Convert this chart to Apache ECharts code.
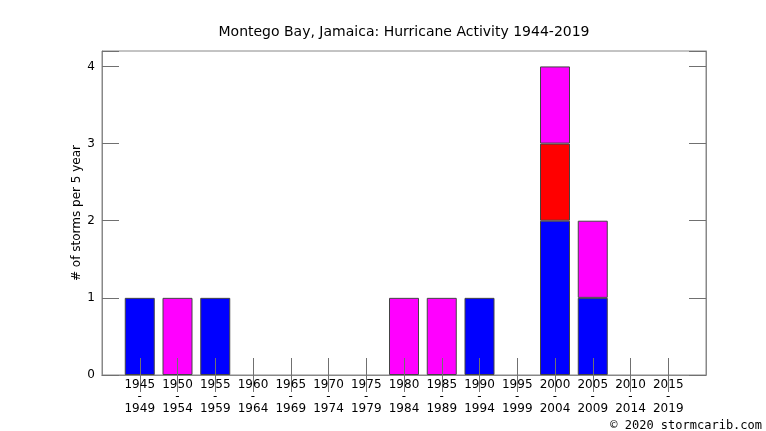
<!DOCTYPE html>
<html>
<head>
<meta charset="utf-8">
<script src="https://cdn.jsdelivr.net/npm/echarts@6/dist/echarts.min.js"></script>
<style>html,body{margin:0;padding:0;background:#fff;}#c{width:766px;height:431px;}</style>
</head>
<body>
<div id="c"></div>
<script>
var categories = ['1945\n-\n1949','1950\n-\n1954','1955\n-\n1959','1960\n-\n1964','1965\n-\n1969','1970\n-\n1974','1975\n-\n1979','1980\n-\n1984','1985\n-\n1989','1990\n-\n1994','1995\n-\n1999','2000\n-\n2004','2005\n-\n2009','2010\n-\n2014','2015\n-\n2019'];
var blueValues    = [1,0,1,0,0,0,0,0,0,1,0,2,1,0,0];
var redValues     = [0,0,0,0,0,0,0,0,0,0,0,1,0,0,0];
var magentaValues = [0,1,0,0,0,0,0,1,1,0,0,1,1,0,0];
var yTicks = [0,1,2,3,4];

function pad(arr){ return [null].concat(arr.map(function(v){return v===0?null:v;}), [null]); }
var cats = [''].concat(categories, ['']);
var lastIdx = cats.length - 1;
function innerTick(i){ return i > 0 && i < lastIdx; }

var chart = echarts.init(document.getElementById('c'), null, {renderer:'canvas'});
var font = 'DejaVu Sans';
var axisGray = '#888';
var tickGray = '#707070';
function barSeries(name, data, color){
  return {
    name: name, type: 'bar', stack: 'total', data: pad(data), barWidth: 30,
    itemStyle: {color: color, borderColor: '#444', borderWidth: 1},
    emphasis: {disabled: true}
  };
}
chart.setOption({
  animation: false,
  title: {
    text: 'Montego Bay, Jamaica: Hurricane Activity 1944-2019',
    left: 399, top: 20, textAlign: 'center',
    textStyle: {fontFamily: font, fontSize: 14, fontWeight: 'normal', color: '#000'}
  },
  grid: {left: 102, right: 60, top: 51, bottom: 56, show: true, borderColor: axisGray, borderWidth: 1, backgroundColor: 'transparent'},
  xAxis: [{
    type: 'category', data: cats, boundaryGap: false, position: 'bottom', z: 5,
    axisLine: {show: true, lineStyle: {color: axisGray}},
    axisTick: {show: true, inside: true, length: 17, interval: innerTick, lineStyle: {color: tickGray}},
    axisLabel: {interval: 0, fontFamily: font, fontSize: 12, color: '#000', lineHeight: 11.8, margin: 4},
    splitLine: {show: false}
  },{
    type: 'category', data: cats, boundaryGap: false, position: 'top', z: 5,
    axisLine: {show: true, lineStyle: {color: axisGray}},
    axisTick: {show: true, inside: true, length: 17, interval: innerTick, lineStyle: {color: tickGray}},
    axisLabel: {show: false},
    splitLine: {show: false}
  }],
  yAxis: [{
    type: 'value', min: 0, max: 4.2, interval: 1, z: 5,
    name: '# of storms per 5 year', nameLocation: 'middle', nameGap: 19, nameRotate: 90,
    nameMoveOverlap: false,
    nameTextStyle: {fontFamily: font, fontSize: 12, color: '#000'},
    axisLine: {show: true, lineStyle: {color: axisGray}},
    axisTick: {show: true, inside: true, length: 17, lineStyle: {color: tickGray}},
    axisLabel: {fontFamily: font, fontSize: 12, color: '#000', margin: 7,
      formatter: function(v){ return yTicks.indexOf(v) >= 0 ? String(v) : ''; }},
    splitLine: {show: false}
  },{
    type: 'value', min: 0, max: 4.2, interval: 1, position: 'right', z: 5,
    axisLine: {show: true, lineStyle: {color: axisGray}},
    axisTick: {show: true, inside: true, length: 17, lineStyle: {color: tickGray}},
    axisLabel: {show: false},
    splitLine: {show: false}
  }],
  series: [
    barSeries('blue', blueValues, '#0000ff'),
    barSeries('red', redValues, '#ff0000'),
    barSeries('magenta', magentaValues, '#ff00ff')
  ],
  graphic: [{
    type: 'text', right: 4, top: 420,
    style: {text: '\u00a9 2020 stormcarib.com', font: '12px "DejaVu Sans Mono"', fill: '#000'}
  }]
});
</script>
</body>
</html>
